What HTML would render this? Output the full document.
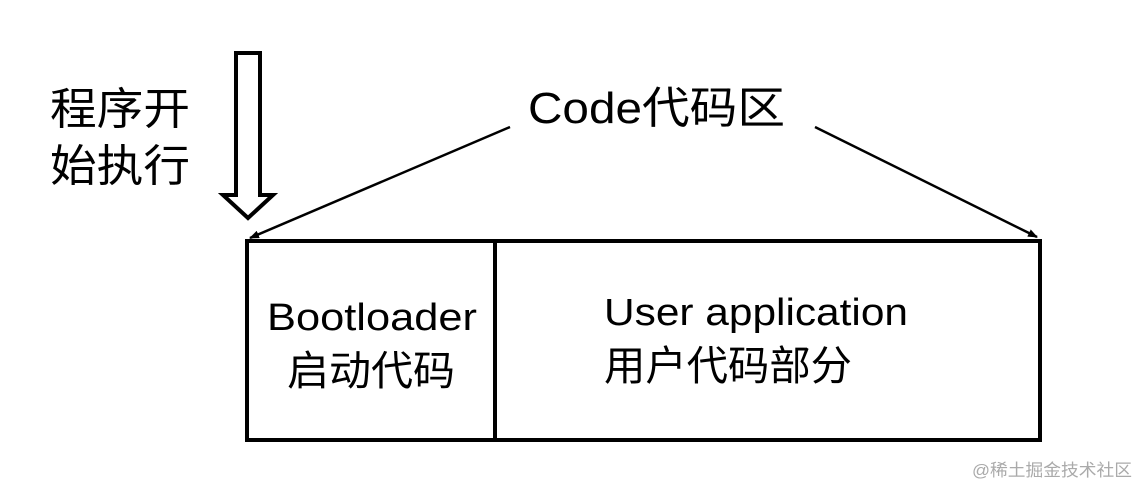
<!DOCTYPE html>
<html><head><meta charset="utf-8"><style>
html,body{margin:0;padding:0;background:#fff;width:1148px;height:498px;overflow:hidden}
text{font-family:"Liberation Sans","Noto Sans CJK SC",sans-serif;fill:#000}
</style></head><body>
<svg width="1148" height="498" viewBox="0 0 1148 498" xmlns="http://www.w3.org/2000/svg">
<defs><marker id="ah" markerWidth="10" markerHeight="8" refX="9" refY="4" orient="auto" markerUnits="userSpaceOnUse"><path d="M0,0 L10,4 L0,8 z" fill="#000"/></marker></defs>
<polygon points="236,53 260,53 260,195 273,195 248,218 223,195 236,195" fill="#fff" stroke="#000" stroke-width="4"/>
<line x1="510" y1="127" x2="250" y2="238" stroke="#000" stroke-width="2.5" marker-end="url(#ah)"/>
<line x1="815" y1="127" x2="1037" y2="237" stroke="#000" stroke-width="2.5" marker-end="url(#ah)"/>
<rect x="247" y="241" width="793" height="199" fill="none" stroke="#000" stroke-width="4"/>
<line x1="495" y1="241" x2="495" y2="440" stroke="#000" stroke-width="4"/>
<text x="50" y="124" font-size="44" textLength="140" lengthAdjust="spacingAndGlyphs">程序开</text>
<text x="50" y="181" font-size="44" textLength="140" lengthAdjust="spacingAndGlyphs">始执行</text>
<text x="528" y="123" font-size="44" textLength="257" lengthAdjust="spacingAndGlyphs">Code代码区</text>
<text x="267" y="330" font-size="38" textLength="210" lengthAdjust="spacingAndGlyphs">Bootloader</text>
<text x="287" y="385" font-size="41" textLength="168" lengthAdjust="spacingAndGlyphs">启动代码</text>
<text x="604" y="325" font-size="38" textLength="304" lengthAdjust="spacingAndGlyphs">User application</text>
<text x="604" y="380" font-size="41" textLength="248" lengthAdjust="spacingAndGlyphs">用户代码部分</text>
<text x="972" y="476" font-size="17" fill="#aaa" style="fill:#aaa" textLength="160" lengthAdjust="spacingAndGlyphs">@稀土掘金技术社区</text>
</svg>
</body></html>
